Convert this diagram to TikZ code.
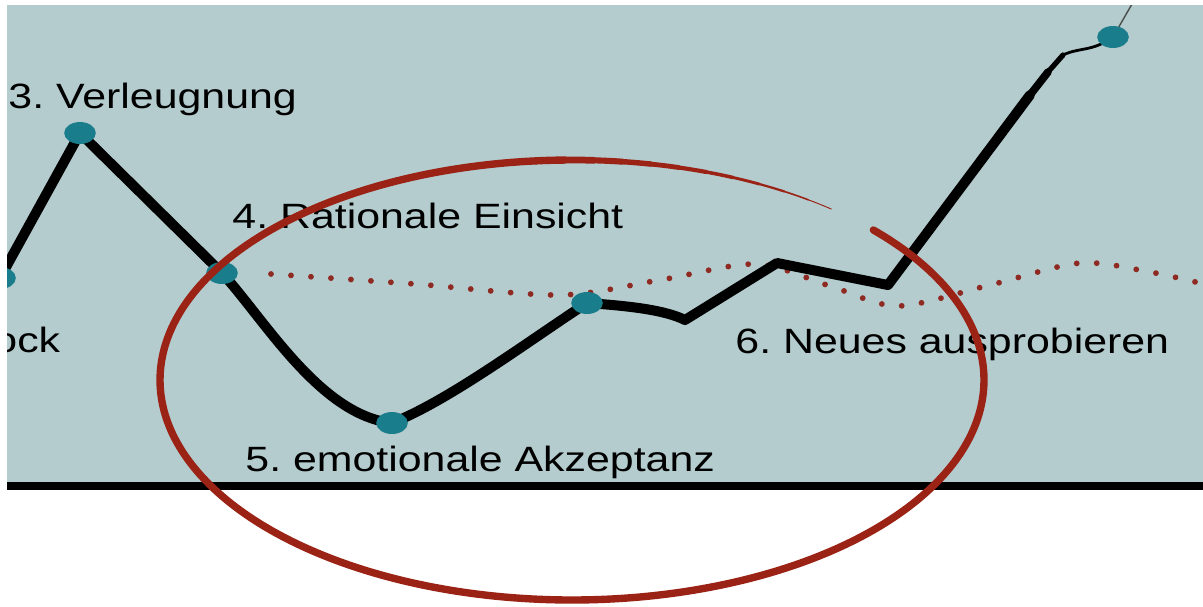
\documentclass[tikz,border=0pt]{standalone}
\usepackage{fontspec}
\setmainfont{Liberation Sans}
\usepackage{tikz}
\usetikzlibrary{shapes.geometric,backgrounds}
\definecolor{PhaseBg}{HTML}{B4CCCE}
\definecolor{StageTeal}{HTML}{1A7D8C}
\definecolor{PhaseRed}{HTML}{9B2316}
\definecolor{DotRed}{HTML}{8E2A22}

\begin{document}
\frenchspacing
\begin{tikzpicture}[x=0.02cm, y=-0.02cm,
        stage/.style={ellipse, fill=StageTeal, inner sep=0pt, minimum width=18pt, minimum height=12.5pt},
        phase/.style={anchor=base west, inner sep=0pt, xscale=1.22, font=\fontsize{20}{24}\selectfont\frenchspacing},
        curve/.style={line width=5.7pt, line join=round, line cap=round},
        dotline/.style={DotRed, line width=3.3pt, line cap=round, dash pattern=on 0pt off 11.4pt}]
    \useasboundingbox (0,0) rectangle (1203,606);
    \begin{scope}
        \clip (7,5) rectangle (1203,486);
        \node (Schock) [stage] at (0,278) {};
        \node (Verleugnung) [stage] at (80,133) {};
        \node (Einsicht) [stage] at (222,273) {};
        \node (Akzeptanz) [stage] at (392,423) {};
        \node (Ausprobieren) [stage] at (587,303) {};
        \node (Aufstieg) [stage] at (1113,37) {};
        \node (SchockText) [phase] at (-7,352) {ock};
    \end{scope}
    \coordinate (Dip) at (685,320);
    \coordinate (Bump) at (777,263);
    \coordinate (Low) at (888,285);
    \coordinate (Kink) at (1030,95);
    \coordinate (Thin) at (1048,72);
    \coordinate (Wiggle) at (1063,55);
    \coordinate (TopEnd) at (1132,4);
    \begin{scope}[on background layer]
        \fill[PhaseBg] (7,5) rectangle (1203,486);
        \clip (7,5) rectangle (1203,486);
        % dotted reference line
        \draw[dotline] plot[smooth, tension=0.5] coordinates {(271,274) (415,284) (560,295) (660,280) (756,264) (830,286) (898,306) (990,285) (1080,263) (1150,272) (1208,285)};
        \draw[curve] (Schock.center) -- (Verleugnung.center) -- (Einsicht.center)
            .. controls (265,320) and (320,415) .. (Akzeptanz.center)
            .. controls (450,400) and (530,340) .. (Ausprobieren.center)
            .. controls (630,306) and (665,310) .. (Dip) -- (Bump) -- (Low) -- (Kink);
        \draw[line width=4.4pt, line cap=round] (Kink) -- (Thin);
        \draw[line width=3pt, line cap=round] (Thin) -- (Wiggle);
        \draw[line width=1.6pt] (Wiggle) .. controls (1080,47) and (1092,52) .. (Aufstieg.center);
        \draw[gray!60!black, line width=0.8pt] (Aufstieg.center) -- (TopEnd);
    \end{scope}
    \node (VerleugnungText) [phase] at (8,108) {3. Verleugnung};
    \node (EinsichtText) [phase] at (232,228) {4. Rationale Einsicht};
    \node (AkzeptanzText) [phase] at (245,471) {5. emotionale Akzeptanz};
    \node (AusprobierenText) [phase] at (735,353) {6. Neues ausprobieren};
    % axis
    \draw[line width=4.6pt] (7,486) -- (1203,486);
    % red loop
    \draw[PhaseRed, line width=4.2pt, line cap=round] plot[domain=-43:265, samples=150, smooth] ({572+412*cos(\x)}, {380+220*sin(\x)});
    \foreach \a in {265,269,...,307} {
        \pgfmathsetmacro\w{4.2*(311-\a)/46}
        \pgfmathtruncatemacro\b{\a+4}
        \draw[PhaseRed, line width=\w pt, line cap=round] plot[domain=\a:\b, samples=5, smooth] ({572+412*cos(\x)}, {380+220*sin(\x)});
    }
\end{tikzpicture}
\end{document}
